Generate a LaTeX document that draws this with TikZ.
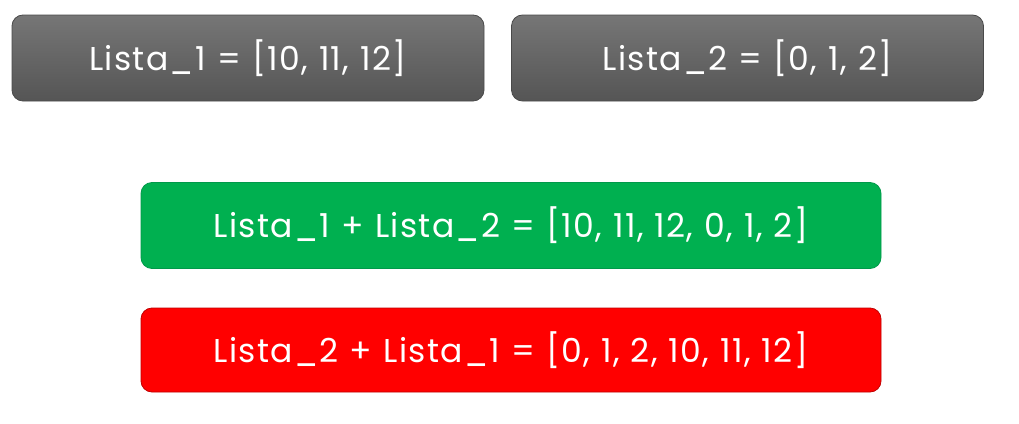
\documentclass[tikz,border=0pt]{standalone}
\usepackage{fontspec}
\setmainfont{Poppins}[LetterSpace=4, WordSpace=1.1]
\usepackage{tikz}
\usetikzlibrary{positioning}
\definecolor{verde}{HTML}{00B050}
\definecolor{verdeborda}{HTML}{00994A}
\definecolor{vermelho}{HTML}{FF0000}
\definecolor{vermelhoborda}{HTML}{C00000}
\definecolor{cinzatopo}{HTML}{767676}
\definecolor{cinzabase}{HTML}{555555}
\definecolor{cinzaborda}{HTML}{4A4A4A}
\tikzset{
  caixa/.style={rounded corners=11pt, text=white, font=\fontsize{33}{40}\selectfont,
    minimum height=86pt, inner sep=0pt, line width=0.8pt},
  lista/.style={caixa, draw=cinzaborda, top color=cinzatopo, bottom color=cinzabase,
    minimum width=472pt},
  certo/.style={caixa, draw=verdeborda, fill=verde, minimum width=740pt},
  errado/.style={caixa, draw=vermelhoborda, fill=vermelho, minimum width=740pt}
}
\begin{document}
\begin{tikzpicture}[x=1pt,y=-1pt]
\useasboundingbox (0,0) rectangle (1019,423);

% listas originais
\node[lista] (lista1) at (248,58) {Lista\_1 = [10, 11, 12]};
\node[lista] (lista2) at (747.5,58) {Lista\_2 = [0, 1, 2]};

% concatenacoes
\node[certo] (soma12) at (511,225.5) {Lista\_1 + Lista\_2 = [10, 11, 12, 0, 1, 2]};
\node[errado, minimum height=84pt] (soma21) at (511,350) {Lista\_2 + Lista\_1 = [0, 1, 2, 10, 11, 12]};
\end{tikzpicture}
\end{document}
